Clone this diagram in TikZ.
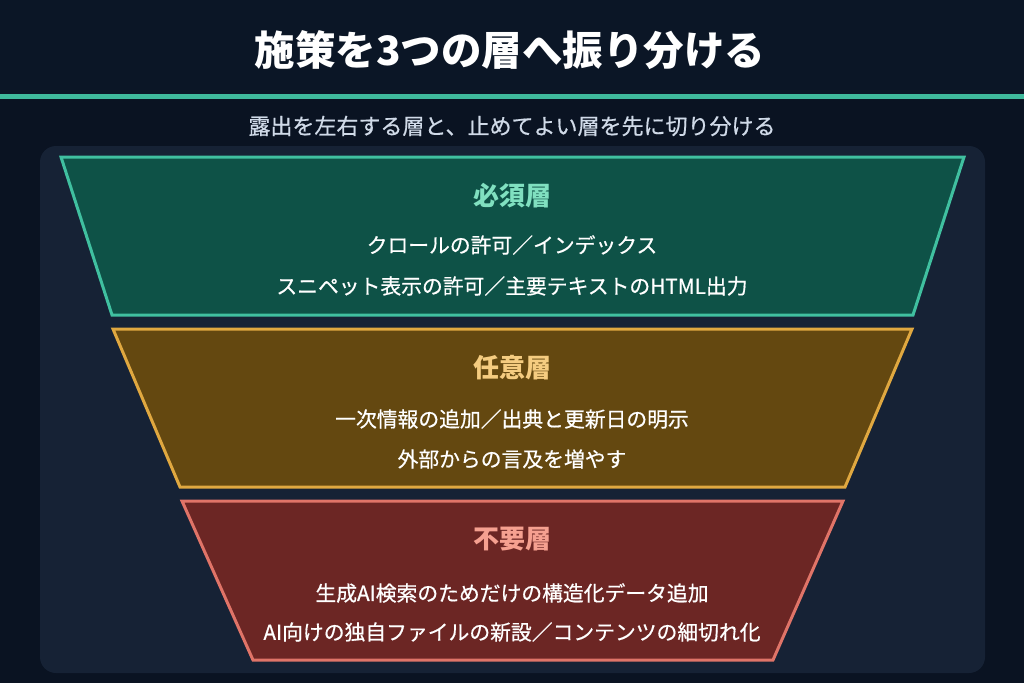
\documentclass[tikz,border=0pt]{standalone}
\usepackage{fontspec}
\setmainfont{Noto Sans CJK JP}
\newfontfamily\jpmed[FakeBold=0.6]{Noto Sans CJK JP}
\definecolor{bgc}{HTML}{0A1322}
\definecolor{hdrc}{HTML}{0B1626}
\definecolor{panelc}{HTML}{162235}
\definecolor{accent}{HTML}{3FBA9C}
\definecolor{subc}{HTML}{D0DAE8}
\definecolor{fillA}{HTML}{0E5247}
\definecolor{lineA}{HTML}{40C0A0}
\definecolor{headA}{HTML}{80E0C0}
\definecolor{fillB}{HTML}{644810}
\definecolor{lineB}{HTML}{E0A840}
\definecolor{headB}{HTML}{F5CC80}
\definecolor{fillC}{HTML}{6C2624}
\definecolor{lineC}{HTML}{E07468}
\definecolor{headC}{HTML}{F5A090}
\tikzset{
  layer/.style={line width=3pt, line join=miter},
  layerhead/.style={font=\fontsize{26}{28}\selectfont\bfseries, anchor=center, inner sep=0pt},
  layertext/.style={font=\jpmed\fontsize{20.8}{23}\selectfont, text=white, anchor=center, inner sep=0pt},
}
\begin{document}
\begin{tikzpicture}[x=1pt,y=-1pt]
\useasboundingbox (0,0) rectangle (1024,683);
\fill[bgc] (0,0) rectangle (1024,683);
\fill[hdrc] (0,0) rectangle (1024,94);
\fill[accent] (0,94) rectangle (1024,99);
\node[font=\fontsize{40.5}{42}\selectfont\bfseries, text=white, inner sep=0pt] (title) at (510,50) {施策を3つの層へ振り分ける};
\node[font=\jpmed\fontsize{22}{24}\selectfont, text=subc, inner sep=0pt] (subtitle) at (512,126) {露出を左右する層と、止めてよい層を先に切り分ける};
\fill[panelc, rounded corners=16pt] (40,146) rectangle (985,673);
% layer A
\draw[layer, draw=lineA, fill=fillA] (61,157) -- (964,157) -- (913,315) -- (112,315) -- cycle;
\node[layerhead, text=headA] (headA) at (512,196) {必須層};
\node[layertext] (a1) at (512,245) {クロールの許可／インデックス};
\node[layertext] (a2) at (512,286) {スニペット表示の許可／主要テキストのHTML出力};
% layer B
\draw[layer, draw=lineB, fill=fillB] (113,329) -- (912,329) -- (845,487) -- (180,487) -- cycle;
\node[layerhead, text=headB] (headB) at (512,368) {任意層};
\node[layertext] (b1) at (512,419) {一次情報の追加／出典と更新日の明示};
\node[layertext] (b2) at (512,459) {外部からの言及を増やす};
% layer C
\draw[layer, draw=lineC, fill=fillC] (182,501) -- (843,501) -- (773,660) -- (253,660) -- cycle;
\node[layerhead, text=headC] (headC) at (512,539) {不要層};
\node[layertext] (c1) at (512,593) {生成AI検索のためだけの構造化データ追加};
\node[layertext] (c2) at (512,632) {AI向けの独自ファイルの新設／コンテンツの細切れ化};
\end{tikzpicture}
\end{document}
